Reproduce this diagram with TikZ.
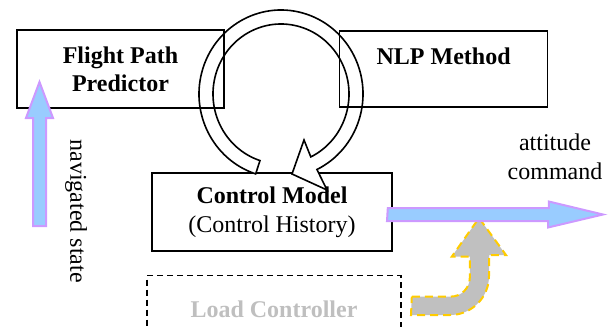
\documentclass[tikz,border=0pt]{standalone}
\usepackage{fontspec}
\setmainfont{Liberation Serif}
\usetikzlibrary{calc, positioning}

\definecolor{skyblue}{HTML}{99CCFF}
\definecolor{lilac}{HTML}{CC99FF}
\definecolor{lightgrey}{HTML}{C0C0C0}
\definecolor{gold}{HTML}{FFCC00}

\begin{document}
\begin{tikzpicture}[
  x=0.5pt, y=-0.5pt,
  every node/.style={font=\fontsize{12pt}{14.5pt}\selectfont},
  box/.style={draw, rectangle, line width=0.8pt, align=center, inner sep=0pt},
  loadbox/.style={box, dashed, dash pattern=on 3pt off 2pt, text=black!25},
  fatarrow/.style={fill=skyblue, draw=lilac, line width=1pt, line join=miter},
  feedarrow/.style={fill=lightgrey, draw=gold, line width=1pt, dash pattern=on 4pt off 2.5pt},
  looparrow/.style={fill=white, draw, line width=0.8pt, line join=miter}
]

\useasboundingbox (0,0) rectangle (609,326);
\clip (0,0) rectangle (609,326);

% Control model
\node[box, fill=white, minimum width=120pt, minimum height=39pt] (ctrl) at (272,212)
  {\textbf{Control Model}\\(Control History)};

% Loop arrow over the model
\coordinate (loop) at (281,94);
\draw[looparrow] ($(loop)+(108:82 and 84)$)
  arc[start angle=108, end angle=424, x radius=82, y radius=84]
  -- ($(loop)+(46,96)$) -- ($(loop)+(11,80)$) -- ($(loop)+(23,46)$)
  -- ($(loop)+(424:68 and 70)$)
  arc[start angle=424, end angle=108, x radius=68, y radius=70]
  -- cycle;

% Upper nodes
\node[box, font=\fontsize{12pt}{14pt}\selectfont\bfseries, minimum width=103.5pt, minimum height=39pt] (flight) at (120.5,69)
  {Flight Path\\Predictor};
\node[box, font=\fontsize{12pt}{14pt}\selectfont\bfseries, minimum width=104pt, minimum height=38pt, right=57pt of flight] (nlp)
  {NLP Method\\[-5pt]\strut};

% Load controller
\node[loadbox, font=\fontsize{12pt}{14pt}\selectfont\bfseries, minimum width=127pt, minimum height=34pt, below=11.5pt of ctrl, xshift=1pt] (load)
  {Load Controller};

% Arrows
\coordinate (loadtail) at ($(load.east)+(10,-3)$);
\coordinate (loadtip) at (479,218);
\draw[feedarrow] (loadtail) ++(0,-10) -- ++(39,0)
  arc[start angle=90, end angle=0, radius=19] -- ++(0,-21) -- ++(-18,0)
  -- (loadtip) -- ++(27,37) -- ++(-17,0) -- ++(0,21)
  arc[start angle=0, end angle=90, radius=39] -- ++(-39,0) -- cycle;

\coordinate (navtail) at (39.5,226);
\coordinate (navtip) at (39.5,82);
\draw[fatarrow] (navtail) ++(-6.5,0) -- ++(0,-108) -- ++(-7,0) -- (navtip)
  -- ++(13.5,36) -- ++(-7,0) -- ++(0,108) -- cycle;

\coordinate (atttail) at ($(ctrl.east)+(-5,2.5)$);
\coordinate (atttip) at (603,214.5);
\draw[fatarrow] (atttail) ++(0,-6.5) -- ++(161,0) -- ++(0,-6.5) -- (atttip)
  -- ++(-55,13) -- ++(0,-6.5) -- ++(-161,0) -- cycle;

% Labels
\node[rotate=-90] (navlabel) at (76,211) {navigated state};
\node[align=center] (attlabel) at (555,157) {attitude\\command};

\end{tikzpicture}
\end{document}
